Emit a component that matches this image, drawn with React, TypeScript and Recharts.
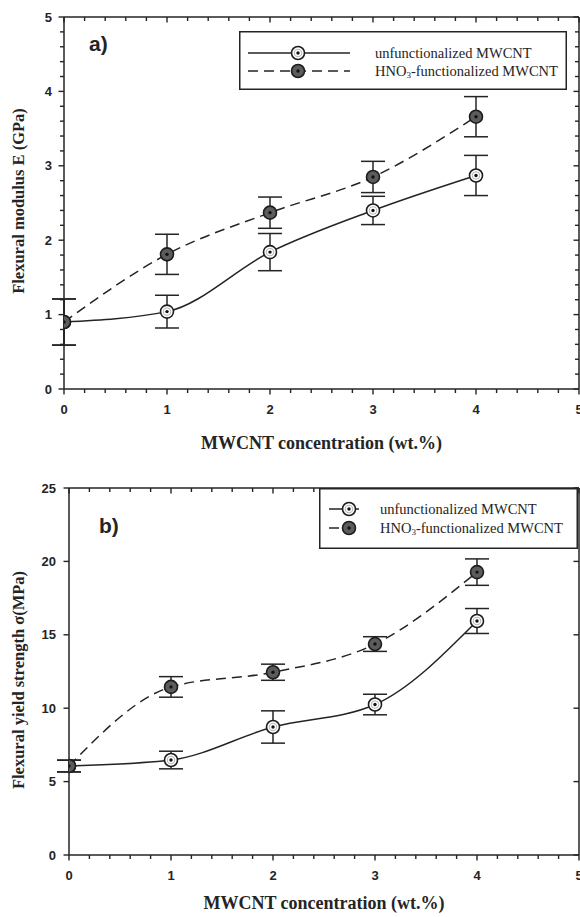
import React from "react";
import { LineChart, Line, XAxis, YAxis, ErrorBar, Legend, Label } from "recharts";

// MWCNT loading (wt.%)
const conc = [0, 1, 2, 3, 4];

// flexural modulus E (GPa), mean and error
const modulusPlain = [0.9, 1.04, 1.84, 2.4, 2.87];
const modulusPlainErr = [0.31, 0.22, 0.25, 0.19, 0.27];
const modulusHno3 = [0.9, 1.81, 2.37, 2.85, 3.66];
const modulusHno3Err = [0.31, 0.27, 0.21, 0.21, 0.27];

// flexural yield strength (MPa), mean and error
const strengthPlain = [6.06, 6.47, 8.72, 10.25, 15.94];
const strengthPlainErr = [0.4, 0.6, 1.1, 0.7, 0.85];
const strengthHno3 = [6.06, 11.45, 12.45, 14.37, 19.27];
const strengthHno3Err = [0.4, 0.7, 0.55, 0.5, 0.9];

const concTicks = [0, 0.2, 0.4, 0.6, 0.8, 1, 1.2, 1.4, 1.6, 1.8, 2, 2.2, 2.4, 2.6, 2.8, 3, 3.2, 3.4, 3.6, 3.8, 4, 4.2, 4.4, 4.6, 4.8, 5];
const modulusTicks = [0, 0.2, 0.4, 0.6, 0.8, 1, 1.2, 1.4, 1.6, 1.8, 2, 2.2, 2.4, 2.6, 2.8, 3, 3.2, 3.4, 3.6, 3.8, 4, 4.2, 4.4, 4.6, 4.8, 5];
const strengthTicks = [0, 5, 10, 15, 20, 25];

const seriesNames = ["unfunctionalized MWCNT", "HNO3-functionalized MWCNT"];

const INK = "#242424";
const DASH = "10 6";
const MAJOR = 5.5;
const MINOR = 4;
const TICK_W = 1.4;
const sansBold = { fontFamily: '"Liberation Sans", Arial, sans-serif', fontWeight: 700 };
const serif = '"Liberation Serif", "Times New Roman", serif';

type Row = { conc: number; plain: number; plainErr: number; hno3: number; hno3Err: number };

const buildRows = (a: number[], ae: number[], b: number[], be: number[]): Row[] =>
  conc.map((c, i) => ({ conc: c, plain: a[i], plainErr: ae[i], hno3: b[i], hno3Err: be[i] }));

const modulusRows = buildRows(modulusPlain, modulusPlainErr, modulusHno3, modulusHno3Err);
const strengthRows = buildRows(strengthPlain, strengthPlainErr, strengthHno3, strengthHno3Err);

const onStep = (v: number, step: number) => Math.abs(v / step - Math.round(v / step)) < 1e-6;

// tick marks; axes use tickSize 0 so (x, y) sits on the axis line
const vMark = (x: number, y0: number, len: number) => (
  <path d={`M${x},${y0}V${y0 + len}`} stroke={INK} strokeWidth={TICK_W} fill="none" />
);
const hMark = (x0: number, y: number, len: number) => (
  <path d={`M${x0},${y}H${x0 + len}`} stroke={INK} strokeWidth={TICK_W} fill="none" />
);

const bottomTick = (step: number) => (p: any) => {
  const major = onStep(p.payload.value, step);
  return (
    <g>
      {vMark(p.x, p.y, major ? MAJOR : MINOR)}
      {major && (
        <text x={p.x} y={p.y + 20} textAnchor="middle" dominantBaseline="central" fontSize={13} fill={INK} style={sansBold}>
          {p.payload.value}
        </text>
      )}
    </g>
  );
};

const leftTick = (step: number, gap: number) => (p: any) => {
  const major = onStep(p.payload.value, step);
  return (
    <g>
      {hMark(p.x, p.y, -(major ? MAJOR : MINOR))}
      {major && (
        <text x={p.x - gap} y={p.y} textAnchor="end" dominantBaseline="central" fontSize={13} fill={INK} style={sansBold}>
          {p.payload.value}
        </text>
      )}
    </g>
  );
};

// frame ticks on the top and right point into the plot
const topTick = (step: number) => (p: any) => <g>{vMark(p.x, p.y, onStep(p.payload.value, step) ? MAJOR : MINOR)}</g>;

const rightTick = (step: number) => (p: any) => <g>{hMark(p.x, p.y, -(onStep(p.payload.value, step) ? MAJOR : MINOR))}</g>;

function Marker({ cx, cy, filled }: { cx: number; cy: number; filled: boolean }) {
  return (
    <g>
      <circle cx={cx} cy={cy} r={6.5} fill={filled ? "#5c5c5c" : "#fff"} stroke="#1c1c1c" strokeWidth={1.6} />
      {!filled && <circle cx={cx} cy={cy} r={3.8} fill="none" stroke="#b5b5b5" strokeWidth={1} />}
      <circle cx={cx} cy={cy} r={1.7} fill="#111" />
    </g>
  );
}

type KeyLayout = {
  width: number;
  height: number;
  lineFrom: number;
  lineTo: number;
  markAt: number;
  textAt: number;
  rowY: number[];
};

function SeriesKey({ k }: { k: KeyLayout }) {
  return (
    <svg width={k.width} height={k.height} style={{ display: "block" }}>
      <rect x={0.75} y={0.75} width={k.width - 1.5} height={k.height - 1.5} fill="#fff" stroke={INK} strokeWidth={1.5} />
      {seriesNames.map((name, i) => {
        const y = k.rowY[i];
        const filled = i === 1;
        return (
          <g key={name}>
            <line x1={k.lineFrom} x2={k.lineTo} y1={y} y2={y} stroke={INK} strokeWidth={1.5} strokeDasharray={filled ? DASH : undefined} />
            <Marker cx={k.markAt} cy={y} filled={filled} />
            <text x={k.textAt} y={y} dominantBaseline="central" fontFamily={serif} fontSize={14.5} fill={INK}>
              {filled ? (
                <>
                  HNO<tspan fontSize={9} dy={4}>3</tspan>
                  <tspan dy={-4}>-functionalized MWCNT</tspan>
                </>
              ) : (
                name
              )}
            </text>
          </g>
        );
      })}
    </svg>
  );
}

type PanelProps = {
  top: number;
  height: number;
  plotTop: number;
  plotBottom: number;
  plotLeft: number;
  rows: Row[];
  yMax: number;
  yTicks: number[];
  yStep: number;
  yLabelGap: number;
  yTitle: string;
  yTitleY: number;
  xTitleDy: number;
  letter: string;
  letterX: number;
  letterY: number;
  keyLeft: number;
  keyTop: number;
  keyLayout: KeyLayout;
};

function Panel(props: PanelProps) {
  const { rows, yMax, yTicks, yStep } = props;
  const axisLine = { stroke: INK, strokeWidth: 1.5 };

  return (
    <div style={{ position: "absolute", left: 0, top: props.top }}>
      <LineChart width={580} height={props.height} data={rows} margin={{ top: props.plotTop - 1, right: 0, bottom: 0, left: 0 }}>
        <XAxis
          xAxisId="b"
          dataKey="conc"
          type="number"
          domain={[0, 5]}
          allowDataOverflow
          ticks={concTicks}
          interval={0}
          tickSize={0}
          tickMargin={0}
          tickLine={false}
          axisLine={axisLine}
          tick={bottomTick(1)}
          height={props.height - props.plotBottom}
        >
          <Label
            content={(lp: any) => {
              const vb = lp.viewBox;
              return (
                <text x={vb.x + vb.width / 2} y={vb.y + props.xTitleDy} textAnchor="middle" dominantBaseline="central" fontFamily={serif} fontWeight={700} fontSize={18} fill={INK}>
                  MWCNT concentration (wt.%)
                </text>
              );
            }}
          />
        </XAxis>
        <XAxis
          xAxisId="t"
          dataKey="conc"
          orientation="top"
          type="number"
          domain={[0, 5]}
          allowDataOverflow
          ticks={concTicks}
          interval={0}
          tickSize={0}
          tickMargin={0}
          tickLine={false}
          axisLine={axisLine}
          tick={topTick(1)}
          height={1}
        >
          <Label
            content={() => (
              <text x={props.letterX} y={props.letterY} dominantBaseline="central" fontSize={21} fill={INK} style={sansBold}>
                {props.letter}
              </text>
            )}
          />
        </XAxis>
        <YAxis
          yAxisId="l"
          type="number"
          domain={[0, yMax]}
          allowDataOverflow
          ticks={yTicks}
          interval={0}
          tickSize={0}
          tickMargin={0}
          tickLine={false}
          axisLine={axisLine}
          tick={leftTick(yStep, props.yLabelGap)}
          width={props.plotLeft}
        >
          <Label
            content={() => (
              <text x={18} y={props.yTitleY} transform={`rotate(-90 18 ${props.yTitleY})`} textAnchor="middle" dominantBaseline="central" fontFamily={serif} fontWeight={700} fontSize={16.5} fill={INK}>
                {props.yTitle}
              </text>
            )}
          />
        </YAxis>
        <YAxis
          yAxisId="r"
          orientation="right"
          type="number"
          domain={[0, yMax]}
          allowDataOverflow
          ticks={yTicks}
          interval={0}
          tickSize={0}
          tickMargin={0}
          tickLine={false}
          axisLine={axisLine}
          tick={rightTick(yStep)}
          width={1}
        />
        <Legend
          verticalAlign="middle"
          align="center"
          wrapperStyle={{ left: props.keyLeft, top: props.keyTop, width: props.keyLayout.width }}
          content={() => <SeriesKey k={props.keyLayout} />}
        />
        {/* unstroked copy so the top / right frame axes get a data domain */}
        <Line xAxisId="t" yAxisId="r" dataKey="plain" stroke="none" dot={false} activeDot={false} legendType="none" isAnimationActive={false} />
        <Line
          xAxisId="b"
          yAxisId="l"
          type="monotone"
          dataKey="plain"
          name={seriesNames[0]}
          stroke={INK}
          strokeWidth={1.5}
          activeDot={false}
          isAnimationActive={false}
          dot={(d: any) => <Marker key={`p${d.index}`} cx={d.cx} cy={d.cy} filled={false} />}
        >
          <ErrorBar dataKey="plainErr" width={12} stroke={INK} strokeWidth={1.5} isAnimationActive={false} />
        </Line>
        <Line
          xAxisId="b"
          yAxisId="l"
          type="monotone"
          dataKey="hno3"
          name={seriesNames[1]}
          stroke={INK}
          strokeWidth={1.5}
          strokeDasharray={DASH}
          activeDot={false}
          isAnimationActive={false}
          dot={(d: any) => <Marker key={`h${d.index}`} cx={d.cx} cy={d.cy} filled />}
        >
          <ErrorBar dataKey="hno3Err" width={12} stroke={INK} strokeWidth={1.5} isAnimationActive={false} />
        </Line>
      </LineChart>
    </div>
  );
}

export default function App() {
  return (
    <div style={{ position: "absolute", left: 0, top: 0, width: 580, height: 917, overflow: "hidden", background: "#fff" }}>
      <Panel
        top={0}
        height={460}
        plotTop={17}
        plotBottom={389}
        plotLeft={64}
        rows={modulusRows}
        yMax={5}
        yTicks={modulusTicks}
        yStep={1}
        yLabelGap={12}
        yTitle="Flexural modulus E (GPa)"
        yTitleY={201}
        xTitleDy={54}
        letter="a)"
        letterX={89}
        letterY={43}
        keyLeft={239}
        keyTop={31}
        keyLayout={{ width: 328, height: 59, lineFrom: 9, lineTo: 111, markAt: 59, textAt: 136, rowY: [22, 40] }}
      />
      <Panel
        top={460}
        height={457}
        plotTop={28}
        plotBottom={395}
        plotLeft={69}
        rows={strengthRows}
        yMax={25}
        yTicks={strengthTicks}
        yStep={5}
        yLabelGap={13}
        yTitle="Flexural yield strength σ(MPa)"
        yTitleY={220}
        xTitleDy={48}
        letter="b)"
        letterX={99}
        letterY={65}
        keyLeft={319}
        keyTop={28}
        keyLayout={{ width: 259, height: 61, lineFrom: 10, lineTo: 40, markAt: 30, textAt: 61, rowY: [21, 40] }}
      />
    </div>
  );
}
